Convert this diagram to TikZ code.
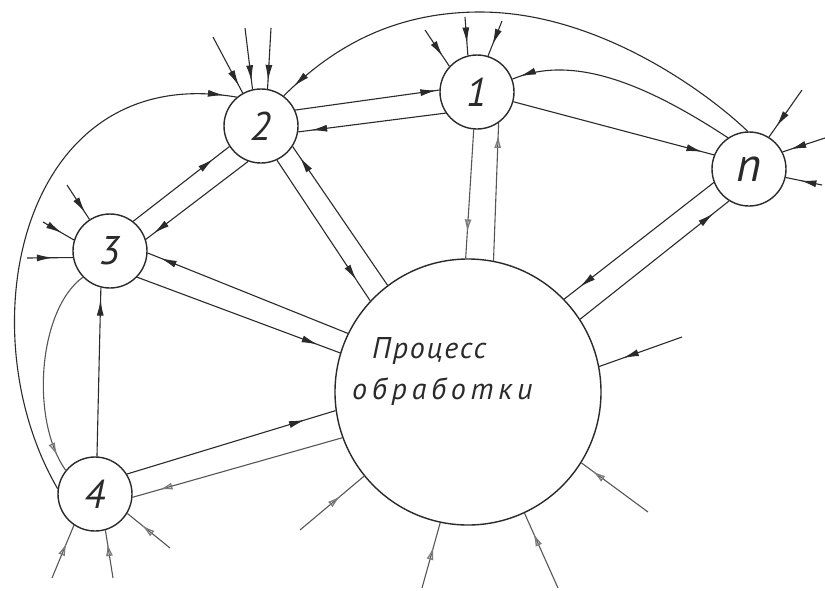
\documentclass[tikz,border=0pt]{standalone}
\usepackage{fontspec}
\newfontfamily\hand{PT Sans}
\usetikzlibrary{arrows.meta,decorations.markings}
\definecolor{ink}{HTML}{2A2A2A}
\definecolor{lightink}{HTML}{7A7A7A}
\begin{document}
\begin{tikzpicture}[x=1pt,y=-1pt,
  ln/.style={draw=ink,line width=1.1pt},
  lnl/.style={draw=ink!80,line width=1.1pt},
  sm/.style={circle,draw=ink,line width=1.4pt,minimum size=74pt,inner sep=0pt,
    font=\hand\itshape\fontsize{40}{40}\selectfont,text=ink},
  big/.style={circle,draw=ink,line width=1.4pt,minimum size=266pt,inner sep=0pt},
  lbl/.style={anchor=base west,inner sep=0pt,font=\hand\itshape\fontsize{30}{30}\selectfont,text=ink},
  ah/.style={postaction={decorate,decoration={markings,mark=at position #1 with {\arrow{Latex[length=16pt,width=7pt,color=ink]}}}}},
  ahl/.style={postaction={decorate,decoration={markings,mark=at position #1 with {\arrow{Latex[open,length=13pt,width=7pt,color=lightink,line width=1.3pt]}}}}},
]
\fill[white] (0,0) rectangle (825,590);
\useasboundingbox (0,0) rectangle (825,590);

% nodes
\node[sm] (n1) at (477,92) {1};
\node[sm] (n2) at (261,126) {2};
\node[sm] (nn) at (749,169) {\fontsize{48}{48}\selectfont n};
\node[sm] (n3) at (110,251) {3};
\node[sm] (n4) at (95,494) {4};
\node[big] (p) at (468,392) {};
\node[lbl] (t1) at (372,358) {\addfontfeatures{LetterSpace=6}Процесс};
\node[lbl] (t2) at (352,399) {\addfontfeatures{LetterSpace=16}обработки};

% free ends of incoming stubs
\coordinate (s1a) at (425,30);
\coordinate (s1b) at (465,17);
\coordinate (s1c) at (502,21);
\coordinate (s2a) at (213,37);
\coordinate (s2b) at (245,28);
\coordinate (s2c) at (271,28);
\coordinate (s3a) at (67,185);
\coordinate (s3b) at (43,222);
\coordinate (s3c) at (27,258);
\coordinate (sna) at (802,90);
\coordinate (snb) at (825,138);
\coordinate (snc) at (822,185);
\coordinate (s4a) at (52,578);
\coordinate (s4b) at (113,578);
\coordinate (s4c) at (170,548);
\coordinate (spa) at (682,337);
\coordinate (spb) at (648,512);
\coordinate (spc) at (558,588);
\coordinate (spd) at (422,588);
\coordinate (spe) at (300,530);

% 2 <-> 1
\draw[ln,ah=-3pt] (n2.25) -- (n1.177);
\draw[ln,ah=-13pt] (n1.214) -- (n2.351);
% big arc n -> 2
\draw[ln,ah=-14pt] (nn.92) .. controls (710,95) and (600,12) .. (480,12)
  .. controls (385,12) and (325,55) .. (n2.53);
% n -> 1 curve
\draw[ln,ah=-8pt] (nn.124) .. controls (640,80) and (570,55) .. (n1.20);
% 1 -> n
\draw[ln,ah=-12pt] (n1.345) -- (nn.158);
% 1 <-> P
\draw[lnl,ahl=-26pt] (n1.265) -- (p.91);
\draw[lnl,ahl=-12pt] (p.79) -- (n1.305);
% 2 <-> P
\draw[ln,ah=-13pt] (p.127) -- (n2.327);
\draw[ln,ah=-25pt] (n2.295) -- (p.137);
% 2 <-> 3
\draw[ln,ah=-20pt] (n3.52) -- (n2.213);
\draw[ln,ah=-10pt] (n2.250) -- (n3.18);
% 3 <-> P
\draw[ln,ah=-14pt] (p.154) -- (n3.357);
\draw[ln,ah=-24pt] (n3.316) -- (p.163);
% 4 -> 3
\draw[ln,ah=-12pt] (n4.87) -- (n3.256);
% 3 -> 4 inner arc
\draw[lnl,ahl=-17pt] (n3.224) .. controls (38,310) and (30,420) .. (n4.141);
% 4 -> 2 outer arc
\draw[ln,ah=-13pt] (n4.172) .. controls (-35,330) and (20,60) .. (n2.130);
% 4 <-> P
\draw[ln,ah=-32pt] (n4.32) -- (p.188);
\draw[lnl,ahl=-28pt] (p.200) -- (n4.355);
% n <-> P
\draw[ln,ah=-20pt] (nn.201) -- (p.44);
\draw[ln,ah=-20pt] (p.33) -- (nn.238);

% stubs into 1
\draw[ln,ah=-12pt] (s1a) -- (n1.137);
\draw[ln,ah=-12pt] (s1b) -- (n1.104);
\draw[ln,ah=-12pt] (s1c) -- (n1.73);
% stubs into 2
\draw[ln,ah=-8pt] (s2a) -- (n2.119);
\draw[ln,ah=-8pt] (s2b) -- (n2.103);
\draw[ln,ah=-8pt] (s2c) -- (n2.80);
% stubs into 3
\draw[ln,ah=-8pt] (s3a) -- (n3.123);
\draw[ln,ah=-14pt] (s3b) -- (n3.163);
\draw[ln,ah=-20pt] (s3c) -- (n3.190);
% stubs into n
\draw[ln,ah=-13pt] (sna) -- (nn.58);
\draw[ln,ah=-8pt] (snb) -- (nn.27);
\draw[ln,ah=-15pt] (snc) -- (nn.347);
% stubs into 4
\draw[lnl,ahl=-19pt] (s4a) -- (n4.236);
\draw[lnl,ahl=-13pt] (s4b) -- (n4.286);
\draw[lnl,ahl=-19pt] (s4c) -- (n4.329);
% stubs into P
\draw[ln,ah=-25pt] (spa) -- (p.11);
\draw[lnl,ahl=-14pt] (spb) -- (p.328);
\draw[lnl,ahl=-22pt] (spc) -- (p.295);
\draw[lnl,ahl=-25pt] (spd) -- (p.258);
\draw[lnl,ahl=-31pt] (spe) -- (p.219);
\end{tikzpicture}
\end{document}
